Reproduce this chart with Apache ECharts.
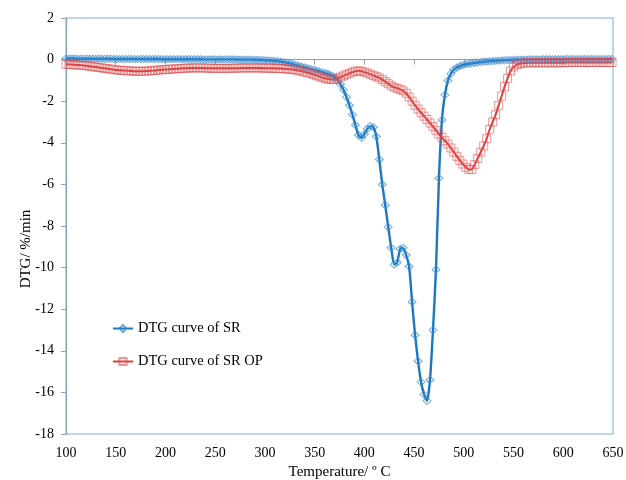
<!DOCTYPE html>
<html><head><meta charset="utf-8">
<script src="https://cdn.jsdelivr.net/npm/echarts@6/dist/echarts.min.js"></script>
<style>html,body{margin:0;padding:0;background:#fff}#c{width:626px;height:480px}</style>
</head><body><div id="c"></div>
<script>
// Temperature (°C)
const temps = [
100,103,106,109,112,115,118,121,124,127,
130,133,136,139,142,145,148,151,154,157,
160,163,166,169,172,175,178,181,184,187,
190,193,196,199,202,205,208,211,214,217,
220,223,226,229,232,235,238,241,244,247,
250,253,256,259,262,265,268,271,274,277,
280,283,286,289,292,295,298,301,304,307,
310,313,316,319,322,325,328,331,334,337,
340,343,346,349,352,355,358,361,364,367,
370,373,376,379,382,385,388,391,394,397,
400,403,406,409,412,415,418,421,424,427,
430,433,436,439,442,445,448,451,454,457,
460,463,466,469,472,475,478,481,484,487,
490,493,496,499,502,505,508,511,514,517,
520,523,526,529,532,535,538,541,544,547,
550,553,556,559,562,565,568,571,574,577,
580,583,586,589,592,595,598,601,604,607,
610,613,616,619,622,625,628,631,634,637,
640,643,646,649
];
// DTG curve of SR (%/min)
const dtgSR = [
0.05,0.05,0.05,0.05,0.04,0.04,0.04,0.04,0.04,0.04,
0.04,0.04,0.04,0.04,0.04,0.04,0.03,0.03,0.03,0.03,
0.03,0.03,0.03,0.03,0.03,0.03,0.03,0.03,0.03,0.03,
0.03,0.03,0.02,0.02,0.02,0.02,0.02,0.02,0.02,0.02,
0.02,0.02,0.02,0.02,0.02,0.02,0.01,0.01,0.01,0.01,
0.01,0.01,0.01,0.01,0.01,0.01,0.01,0.01,0,0,
0,0,0,-0.01,-0.01,-0.02,-0.02,-0.03,-0.04,-0.05,
-0.06,-0.08,-0.1,-0.12,-0.15,-0.18,-0.22,-0.26,-0.3,-0.34,
-0.37,-0.41,-0.45,-0.49,-0.53,-0.57,-0.61,-0.65,-0.7,-0.76,
-0.85,-0.98,-1.18,-1.45,-1.8,-2.2,-2.65,-3.15,-3.62,-3.76,
-3.58,-3.33,-3.2,-3.25,-3.7,-4.8,-6.0,-7.0,-8.05,-9.05,
-9.85,-9.75,-9.1,-9.05,-9.4,-9.95,-11.65,-13.25,-14.5,-15.5,
-16.1,-16.4,-15.4,-13.0,-10.1,-5.7,-2.9,-1.7,-1.0,-0.68,
-0.48,-0.38,-0.31,-0.26,-0.23,-0.2,-0.18,-0.16,-0.14,-0.12,
-0.1,-0.09,-0.08,-0.07,-0.06,-0.05,-0.04,-0.03,-0.02,-0.02,
-0.01,-0.01,0,0,0,0.01,0.01,0.01,0.01,0.01,
0.02,0.02,0.02,0.02,0.02,0.02,0.02,0.02,0.03,0.03,
0.03,0.03,0.03,0.03,0.03,0.03,0.03,0.03,0.03,0.03,
0.03,0.03,0.03,0.03
];
// DTG curve of SR OP (%/min)
const dtgSROP = [
-0.22,-0.23,-0.24,-0.25,-0.26,-0.27,-0.28,-0.3,-0.32,-0.34,
-0.36,-0.38,-0.4,-0.42,-0.44,-0.46,-0.48,-0.5,-0.51,-0.52,
-0.53,-0.54,-0.55,-0.56,-0.56,-0.56,-0.56,-0.55,-0.54,-0.53,
-0.52,-0.5,-0.49,-0.48,-0.47,-0.46,-0.45,-0.44,-0.43,-0.42,
-0.41,-0.41,-0.4,-0.4,-0.4,-0.4,-0.4,-0.41,-0.41,-0.42,
-0.42,-0.42,-0.42,-0.42,-0.42,-0.42,-0.41,-0.41,-0.41,-0.4,
-0.4,-0.4,-0.4,-0.4,-0.4,-0.4,-0.41,-0.41,-0.41,-0.42,
-0.42,-0.43,-0.43,-0.44,-0.45,-0.46,-0.48,-0.5,-0.53,-0.56,
-0.6,-0.63,-0.67,-0.72,-0.77,-0.82,-0.87,-0.91,-0.94,-0.96,
-0.95,-0.9,-0.84,-0.78,-0.72,-0.66,-0.6,-0.56,-0.54,-0.56,
-0.6,-0.65,-0.7,-0.76,-0.82,-0.88,-0.96,-1.06,-1.16,-1.26,
-1.33,-1.38,-1.43,-1.5,-1.62,-1.8,-2.0,-2.2,-2.38,-2.55,
-2.72,-2.88,-3.05,-3.22,-3.4,-3.58,-3.74,-3.9,-4.06,-4.25,
-4.45,-4.65,-4.85,-5.02,-5.18,-5.28,-5.28,-5.05,-4.75,-4.45,
-4.15,-3.8,-3.35,-3.0,-2.65,-2.2,-1.75,-1.3,-0.9,-0.55,
-0.35,-0.25,-0.2,-0.17,-0.16,-0.15,-0.15,-0.15,-0.15,-0.15,
-0.15,-0.15,-0.15,-0.15,-0.15,-0.15,-0.15,-0.15,-0.14,-0.14,
-0.14,-0.14,-0.14,-0.14,-0.14,-0.14,-0.14,-0.14,-0.14,-0.14,
-0.14,-0.14,-0.14,-0.14
];
const seriesNames = ['DTG curve of SR', 'DTG curve of SR OP'];
const xAxisTitle = 'Temperature/ º C';
const yAxisTitle = 'DTG/ %/min';

const FONT = '"Liberation Serif","Times New Roman",serif';
const chart = echarts.init(document.getElementById('c'), null, {renderer: 'canvas'});
chart.setOption({
  animation: false,
  backgroundColor: '#ffffff',
  grid: {left: 66, right: 13, top: 18, bottom: 46, show: true, borderColor: '#a9c8e6', borderWidth: 1.5,
         containLabel: false, outerBoundsMode: 'none'},
  legend: {
    orient: 'vertical', left: 107, top: 316, itemWidth: 20, itemHeight: 9, itemGap: 18,
    textStyle: {fontFamily: FONT, fontSize: 14.5, color: '#000'},
    data: seriesNames
  },
  xAxis: {
    type: 'value', min: 100, max: 650, interval: 50,
    name: xAxisTitle, nameLocation: 'middle', nameGap: 31, nameMoveOverlap: false,
    nameTextStyle: {fontFamily: FONT, fontSize: 15, color: '#000'},
    axisLine: {show: true, lineStyle: {color: '#8fa3b8', width: 1.2}},
    axisTick: {show: true, inside: false, length: 5, lineStyle: {color: '#8fa3b8'}},
    axisLabel: {fontFamily: FONT, fontSize: 14, color: '#000', margin: 12},
    splitLine: {show: false}
  },
  yAxis: {
    type: 'value', min: -18, max: 2, interval: 2,
    name: yAxisTitle, nameLocation: 'middle', nameGap: 32, nameRotate: 90, nameMoveOverlap: false,
    nameTextStyle: {fontFamily: FONT, fontSize: 15, color: '#000', padding: [0, 46, 0, 0]},
    axisLine: {show: true, lineStyle: {color: '#8fa3b8', width: 1.2}},
    axisTick: {show: true, inside: false, length: 5, lineStyle: {color: '#8fa3b8'}},
    axisLabel: {fontFamily: FONT, fontSize: 14, color: '#000', margin: 12},
    splitLine: {show: false}
  },
  series: [
    {
      name: seriesNames[0], type: 'line', smooth: 0.2,
      data: temps.map((t, i) => [t, dtgSR[i]]),
      symbol: 'diamond', symbolSize: [8, 7], showAllSymbol: true,
      lineStyle: {color: '#1a78c2', width: 2.4},
      itemStyle: {color: 'rgba(255,255,255,0)', borderColor: 'rgba(60,140,210,0.75)', borderWidth: 1}
    },
    {
      name: seriesNames[1], type: 'line', smooth: 0.2,
      data: temps.map((t, i) => [t, dtgSROP[i]]),
      symbol: 'rect', symbolSize: 8, showAllSymbol: true,
      lineStyle: {color: '#e03c3c', width: 2},
      itemStyle: {color: 'rgba(255,255,255,0)', borderColor: 'rgba(225,80,80,0.6)', borderWidth: 1}
    }
  ]
});
</script>
</body></html>
